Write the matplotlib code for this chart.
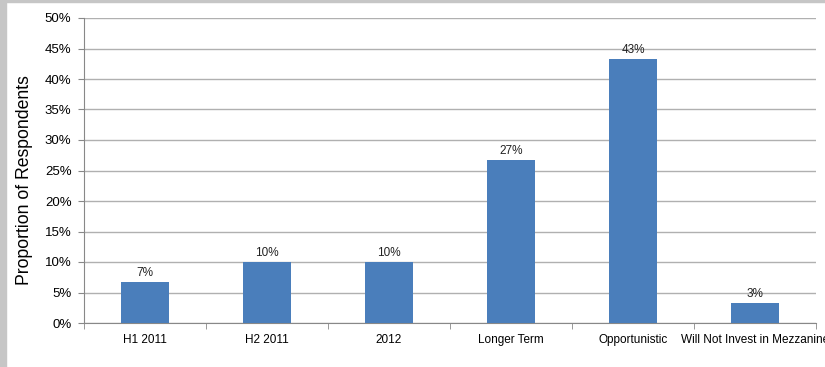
import matplotlib.pyplot as plt
from matplotlib.patches import Rectangle
from matplotlib.ticker import MultipleLocator, PercentFormatter

plt.rcParams['font.family'] = ['Liberation Sans', 'DejaVu Sans']

categories = ['H1 2011', 'H2 2011', '2012', 'Longer Term', 'Opportunistic',
              'Will Not Invest in Mezzanine']
shares = [6.7, 10.0, 10.0, 26.7, 43.3, 3.3]

fig = plt.figure(figsize=(8.25, 3.67), dpi=100)
ax = fig.add_axes([84 / 825, 44 / 367, 732 / 825, 305 / 367])

# grey frame strips along the left and top edges
fig.patches.append(Rectangle((0, 0), 6 / 825, 1, transform=fig.transFigure,
                             color='#c6c6c6', zorder=0))
fig.patches.append(Rectangle((0, 1 - 2 / 367), 1, 2 / 367, transform=fig.transFigure,
                             color='#c6c6c6', zorder=0))

x = list(range(len(categories)))
bars = ax.bar(x, shares, width=0.4, color='#4a7ebb', zorder=3)
for b, v in zip(bars, shares):
    ax.text(b.get_x() + b.get_width() / 2, v + 0.5, f'{v:.0f}%',
            ha='center', va='bottom', fontsize=8.5, color='#222222')

ax.set_xlim(-0.5, len(categories) - 0.5)
ax.set_ylim(0, 50)
ax.yaxis.set_major_locator(MultipleLocator(5))
ax.yaxis.set_major_formatter(PercentFormatter(decimals=0))
ax.grid(axis='y', color='#b0b0b0', linewidth=1, zorder=0)

ax.set_xticks(x)
ax.set_xticklabels(categories, fontsize=8.5)
ax.set_xticks([i + 0.5 for i in range(-1, len(categories))], minor=True)
ax.tick_params(axis='x', which='major', length=0, pad=8)
ax.tick_params(axis='x', which='minor', length=4, color='#888888')
ax.tick_params(axis='y', length=4, color='#888888', labelsize=9.5, pad=5)

for side in ['top', 'right']:
    ax.spines[side].set_visible(False)
for side in ['left', 'bottom']:
    ax.spines[side].set_color('#888888')

ax.set_ylabel('Proportion of Respondents', fontsize=12.7, labelpad=12)
ax.yaxis.set_label_coords(-0.07, 0.47)

fig.savefig('out.png', dpi=100)
